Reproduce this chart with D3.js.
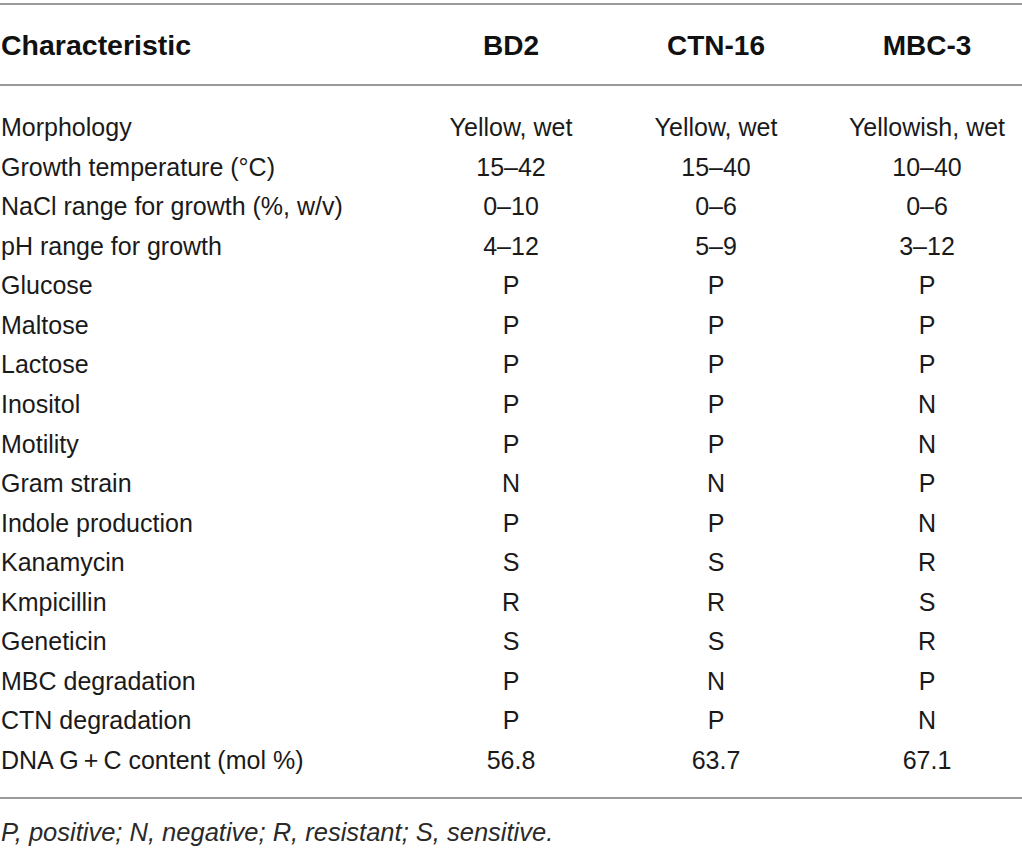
<!DOCTYPE html>
<html>
<head>
<meta charset="utf-8">
<script src="https://cdn.jsdelivr.net/npm/d3@7"></script>
<style>
  body { margin: 0; background: #fff; }
  svg { display: block; }
</style>
</head>
<body>
<svg id="table" width="1022" height="850"></svg>
<script>
const strains = ['BD2', 'CTN-16', 'MBC-3'];
const headerLabel = 'Characteristic';

const characteristics = [
  'Morphology', 'Growth temperature (°C)', 'NaCl range for growth (%, w/v)',
  'pH range for growth', 'Glucose', 'Maltose', 'Lactose', 'Inositol',
  'Motility', 'Gram strain', 'Indole production', 'Kanamycin', 'Kmpicillin',
  'Geneticin', 'MBC degradation', 'CTN degradation', 'DNA G\u2009+\u2009C content (mol %)'
];

const bd2 = ['Yellow, wet', '15–42', '0–10', '4–12', 'P', 'P', 'P', 'P', 'P', 'N', 'P', 'S', 'R', 'S', 'P', 'P', '56.8'];
const ctn16 = ['Yellow, wet', '15–40', '0–6', '5–9', 'P', 'P', 'P', 'P', 'P', 'N', 'P', 'S', 'R', 'S', 'N', 'P', '63.7'];
const mbc3 = ['Yellowish, wet', '10–40', '0–6', '3–12', 'P', 'P', 'P', 'N', 'N', 'P', 'N', 'R', 'S', 'R', 'P', 'N', '67.1'];

const footnote = 'P, positive; N, negative; R, resistant; S, sensitive.';

const values = [bd2, ctn16, mbc3];
const font = "'Liberation Sans', Arial, sans-serif";

const svg = d3.select('#table');

// row baselines and column centres
const y = d3.scaleLinear().domain([0, characteristics.length - 1]).range([136, 769]);
const x = d3.scaleOrdinal().domain(strains).range([511, 716, 927]);

// rules
svg.selectAll('line.rule')
  .data([4, 85, 798])
  .enter()
  .append('line')
  .attr('class', 'rule')
  .attr('x1', 0)
  .attr('x2', 1022)
  .attr('y1', d => d)
  .attr('y2', d => d)
  .attr('stroke', '#9a9a9a')
  .attr('stroke-width', 2);

// header
svg.append('text')
  .attr('x', 1)
  .attr('y', 55)
  .style('font-family', font)
  .style('font-weight', 'bold')
  .style('font-size', '28.5px')
  .attr('fill', '#111')
  .text(headerLabel);

svg.selectAll('text.head')
  .data(strains)
  .enter()
  .append('text')
  .attr('class', 'head')
  .attr('x', d => x(d))
  .attr('y', 55)
  .style('font-family', font)
  .style('font-weight', 'bold')
  .style('font-size', '28px')
  .style('text-anchor', 'middle')
  .attr('fill', '#111')
  .text(d => d);

// body rows
const rows = svg.selectAll('g.row')
  .data(characteristics)
  .enter()
  .append('g')
  .attr('class', 'row');

rows.append('text')
  .attr('x', 1)
  .attr('y', (d, i) => y(i))
  .style('font-family', font)
  .style('font-size', '25px')
  .attr('fill', '#1a1a1a')
  .text(d => d);

strains.forEach((s, j) => {
  rows.append('text')
    .attr('x', x(s))
    .attr('y', (d, i) => y(i))
    .style('font-family', font)
    .style('font-size', '25px')
    .style('text-anchor', 'middle')
    .attr('fill', '#1a1a1a')
    .text((d, i) => values[j][i]);
});

// footnote
svg.append('text')
  .attr('x', 1)
  .attr('y', 841)
  .style('font-family', font)
  .style('font-style', 'italic')
  .style('font-size', '25.5px')
  .attr('fill', '#2a2a2a')
  .text(footnote);
</script>
</body>
</html>
